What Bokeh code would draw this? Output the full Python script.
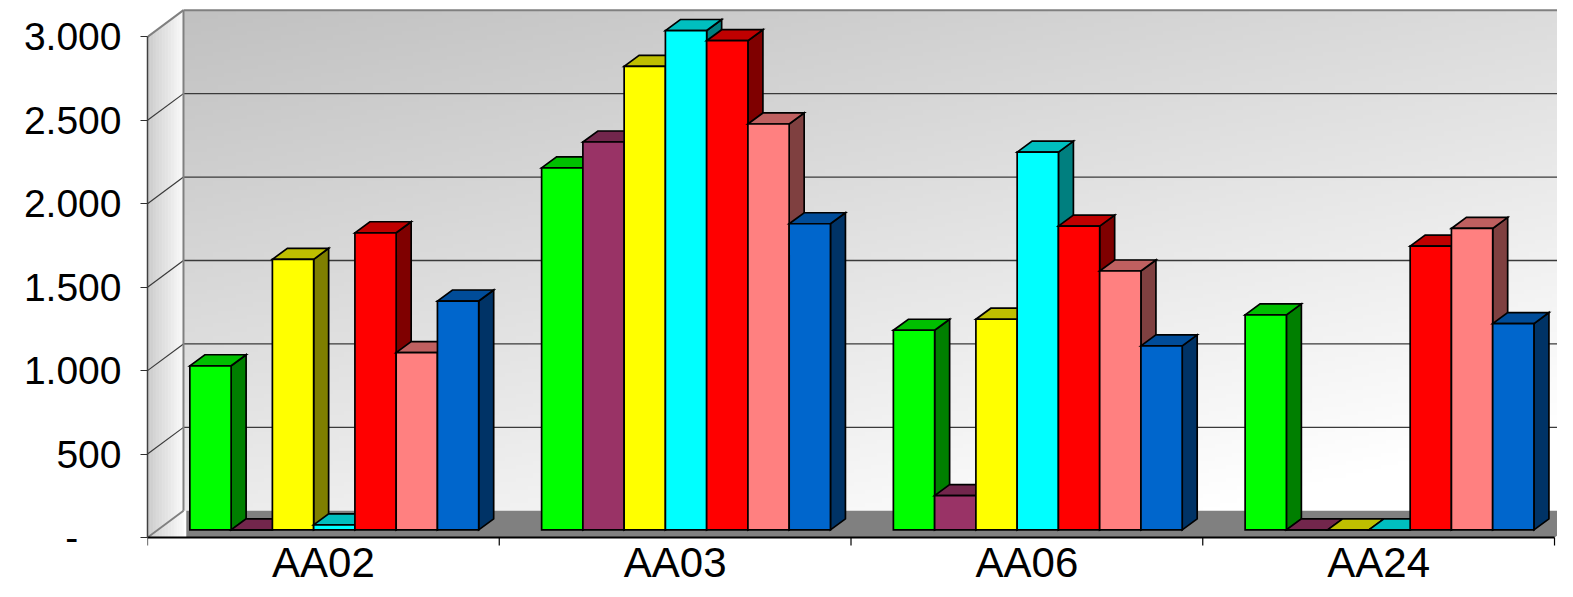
import numpy as np
from bokeh.plotting import figure
from bokeh.models import Range1d, LinearAxis, FixedTicker
from bokeh.core.properties import value
from bokeh.embed import file_html
from bokeh.resources import INLINE

# ---------------- data ----------------
categories = ["AA02", "AA03", "AA06", "AA24"]
series_names = ["Serie 1", "Serie 2", "Serie 3", "Serie 4", "Serie 5", "Serie 6", "Serie 7"]
serie1 = [983, 2169, 1196, 1288]
serie2 = [0, 2324, 205, 0]
serie3 = [1621, 2777, 1262, 0]
serie4 = [30, 2992, 2263, 0]
serie5 = [1780, 2931, 1820, 1700]
serie6 = [1062, 2432, 1551, 1806]
serie7 = [1371, 1834, 1102, 1236]
series = [serie1, serie2, serie3, serie4, serie5, serie6, serie7]
y_ticks = [0, 500, 1000, 1500, 2000, 2500, 3000]
y_tick_labels = ["-\u00a0\u00a0\u00a0\u00a0", "500", "1.000", "1.500", "2.000", "2.500", "3.000"]

# ---------------- style ----------------
front_colors = ["#00FF00", "#993366", "#FFFF00", "#00FFFF", "#FF0000", "#FF8080", "#0066CC"]


def shade(hex_color, f):
    h = hex_color.lstrip("#")
    r, g, b = (int(h[i:i + 2], 16) for i in (0, 2, 4))
    return "#%02x%02x%02x" % (int(r * f), int(g * f), int(b * f))


top_colors = [shade(c, 0.75) for c in front_colors]
side_colors = [shade(c, 0.5) for c in front_colors]

YMAX_VAL = 3000
DX, DY = 0.1023, 160          # full depth of the 3D box (x units, value units)
BAR_OFF_X, BAR_OFF_Y = 0.031, 46
BAR_W = 0.1173
BAR_DX, BAR_DY = 0.0426, 66
X_END = 4.0085
Y_START, Y_END = -311.6, 3170
LABEL_Y = -152.8
FONT = "Liberation Sans"

p = figure(width=1557, height=589, x_range=Range1d(0, X_END), y_range=Range1d(Y_START, Y_END),
           output_backend="svg", toolbar_location=None, x_axis_type=None, y_axis_type=None,
           min_border_left=147, min_border_right=0, min_border_top=8, min_border_bottom=0)
p.outline_line_color = None
p.background_fill_color = "white"
p.border_fill_color = "white"
p.xgrid.visible = False
p.ygrid.visible = False

n_cat = len(categories)

# ---- back wall gradient ----
nx, ny = 240, 120
xf = np.linspace(0, 1, nx)[None, :]
yf = np.linspace(0, 1, ny)[:, None]
v = np.clip(193 + 27 * xf + 42 * (1 - yf), 0, 255).astype(np.uint8)
img = np.empty((ny, nx), dtype=np.uint32)
view = img.view(dtype=np.uint8).reshape((ny, nx, 4))
view[..., 0] = v
view[..., 1] = v
view[..., 2] = v
view[..., 3] = 255
p.image_rgba(image=[img], x=DX, y=DY, dw=X_END - DX, dh=YMAX_VAL)

# ---- side wall gradient strips ----
nstrip = 24
sx, sy, sc = [], [], []
for k in range(nstrip):
    a = DX * k / nstrip
    b = DX * (k + 1) / nstrip
    t = (k + 0.5) / nstrip
    g = int(204 + 46 * t)
    sx.append([a, b, b, a])
    sy.append([0, 0, YMAX_VAL + DY * b / DX, YMAX_VAL + DY * a / DX])
    sc.append("#%02x%02x%02x" % (g, g, g))
p.patches(sx, sy, fill_color=sc, line_color=sc, line_width=0.6)

# ---- floor ----
p.patches([[DX + 0.008, n_cat, n_cat + DX, DX + 0.008]], [[0, 0, DY, DY]],
          fill_color="#808080", line_color=None)

# ---- gridlines ----
grid_vals = [t for t in y_ticks if 0 < t < YMAX_VAL]
p.segment(x0=[DX] * len(grid_vals), y0=[g + DY for g in grid_vals],
          x1=[X_END] * len(grid_vals), y1=[g + DY for g in grid_vals],
          line_color="#3a3a3a", line_width=1.3)
p.segment(x0=[0] * len(grid_vals), y0=grid_vals, x1=[DX] * len(grid_vals),
          y1=[g + DY for g in grid_vals], line_color="#3a3a3a", line_width=1.2)

# ---- wall edges ----
p.segment(x0=[DX, DX, 0, 0], y0=[DY, YMAX_VAL + DY, YMAX_VAL, 0],
          x1=[DX, X_END, DX, DX], y1=[YMAX_VAL + DY, YMAX_VAL + DY, YMAX_VAL + DY, DY],
          line_color="#808080", line_width=2)

# ---- 3D bars ----
bx, by, bc = [], [], []
n_ser = len(series)
for i in range(n_cat):
    for j in range(n_ser):
        val = series[j][i]
        x0 = i + 0.5 + BAR_OFF_X - (n_ser / 2) * BAR_W + j * BAR_W
        x1 = x0 + BAR_W
        y0 = BAR_OFF_Y
        y1 = BAR_OFF_Y + val
        # side
        bx.append([x1, x1 + BAR_DX, x1 + BAR_DX, x1])
        by.append([y0, y0 + BAR_DY, y1 + BAR_DY, y1])
        bc.append(side_colors[j])
        # top
        bx.append([x0, x1, x1 + BAR_DX, x0 + BAR_DX])
        by.append([y1, y1, y1 + BAR_DY, y1 + BAR_DY])
        bc.append(top_colors[j])
        # front
        bx.append([x0, x1, x1, x0])
        by.append([y0, y0, y1, y1])
        bc.append(front_colors[j])
p.patches(bx, by, fill_color=bc, line_color="black", line_width=1.7, line_join="miter")

# ---- x axis (front floor edge, ticks, labels) ----
edges = list(range(n_cat + 1))
p.segment(x0=[0], y0=[0], x1=[n_cat], y1=[0], line_color="black", line_width=2)
p.segment(x0=edges, y0=[0] * len(edges), x1=edges, y1=[-48] * len(edges),
          line_color="black", line_width=1.2)
centers = [i + 0.5 for i in range(n_cat)]
p.text(x=centers, y=[LABEL_Y] * n_cat, text=categories, text_font=value(FONT),
       text_font_size="42px", text_align="center", text_baseline="alphabetic",
       text_color="black")

# ---- y axis ----
yaxis = LinearAxis(bounds=(0, YMAX_VAL))
yaxis.ticker = FixedTicker(ticks=y_ticks, minor_ticks=[])
yaxis.major_label_overrides = {t: lab for t, lab in zip(y_ticks, y_tick_labels)}
yaxis.major_tick_out = 7
yaxis.major_tick_in = 0
yaxis.minor_tick_out = 0
yaxis.minor_tick_in = 0
yaxis.axis_line_color = "#404040"
yaxis.axis_line_width = 1.5
yaxis.major_tick_line_color = "#303030"
yaxis.major_tick_line_width = 1.2
yaxis.major_label_text_font = FONT
yaxis.major_label_text_font_size = "39px"
yaxis.major_label_text_color = "black"
yaxis.major_label_standoff = 19
p.add_layout(yaxis, "left")

open("out.html", "w").write(file_html(p, INLINE))
